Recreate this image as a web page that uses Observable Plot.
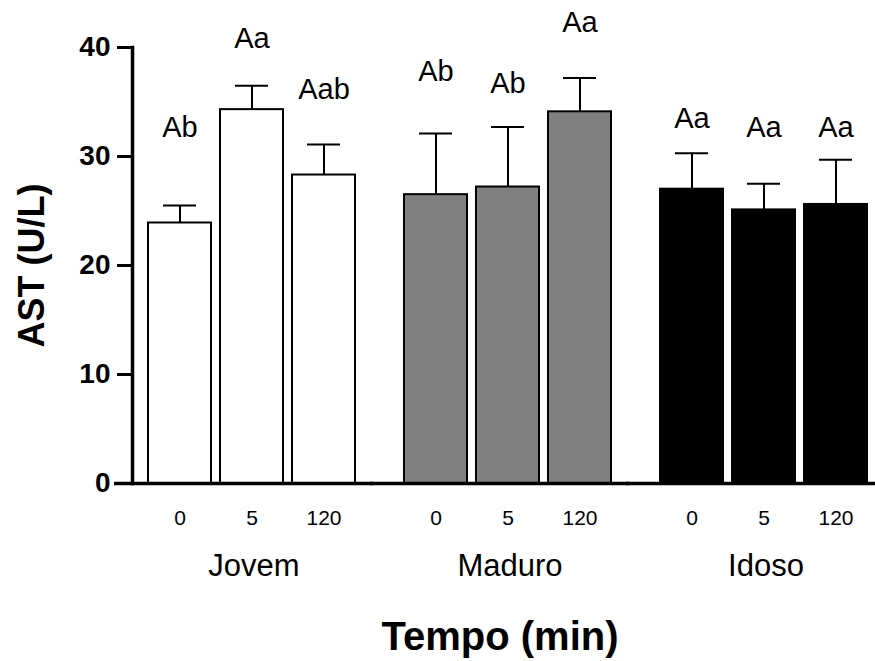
<!DOCTYPE html>
<html>
<head>
<meta charset="utf-8">
<script src="https://cdn.jsdelivr.net/npm/d3@7"></script>
<script src="https://cdn.jsdelivr.net/npm/@observablehq/plot@0.6"></script>
<style>
  html, body { margin: 0; padding: 0; background: #fff; }
</style>
</head>
<body>
<div id="chart"></div>
<script>
// ---- data ----
const groups = ["Jovem", "Maduro", "Idoso"];
const times = ["0", "5", "120"];
const means = [23.9, 34.3, 28.3, 26.5, 27.2, 34.1, 27.0, 25.1, 25.6];
const errs  = [1.6, 2.2, 2.8, 5.6, 5.5, 3.1, 3.3, 2.4, 4.1];
const letters = ["Ab", "Aa", "Aab", "Ab", "Ab", "Aa", "Aa", "Aa", "Aa"];
const letterY = [32.6, 40.8, 36.1, 37.8, 36.7, 42.3, 33.5, 32.6, 32.6];
const yTicks = [0, 10, 20, 30, 40];
const groupColors = ["#ffffff", "#808080", "#000000"];

const rows = groups.flatMap((g, gi) => times.map((t, ti) => {
  const i = gi * times.length + ti;
  return {group: g, time: t, mean: means[i], err: errs[i], top: means[i] + errs[i], letter: letters[i], ly: letterY[i]};
}));

const chart = Plot.plot({
  width: 875,
  height: 661,
  marginLeft: 132,
  marginRight: 8,
  marginTop: 47,
  marginBottom: 178,
  style: {fontFamily: "'Liberation Sans', Arial, sans-serif", background: "#fff", color: "#000"},
  fx: {domain: groups, paddingInner: 0.129, paddingOuter: 0},
  x: {domain: times, paddingInner: 0.125, paddingOuter: 0.111, align: 1},
  y: {domain: [0, 40]},
  color: {domain: groups, range: groupColors},
  marks: [
    Plot.ruleX(rows, {fx: "group", x: "time", y1: "mean", y2: "top", stroke: "#000", strokeWidth: 2}),
    Plot.tickY(rows, {fx: "group", x: "time", y: "top", stroke: "#000", strokeWidth: 2, insetLeft: 15, insetRight: 15}),
    Plot.barY(rows, {fx: "group", x: "time", y: "mean", fill: "group", stroke: "#000", strokeWidth: 2}),
    Plot.text(rows, {fx: "group", x: "time", y: "ly", text: "letter", fontSize: 29, fill: "#000"}),
    Plot.ruleY([0], {stroke: "#000", strokeWidth: 3.5, insetLeft: -18, insetRight: -18}),
    Plot.frame({facet: "super", anchor: "left", stroke: "#000", strokeWidth: 3.5}),
    Plot.axisY({ticks: yTicks, tickSize: 15, tickPadding: 7, strokeWidth: 3, fontSize: 28, fontWeight: "bold",
      label: "AST (U/L)", labelAnchor: "center", labelOffset: 114, labelArrow: "none"}),
    Plot.axisX({anchor: "bottom", tickSize: 0, tickPadding: 27, fontSize: 21, label: null}),
    Plot.axisFx({anchor: "bottom", tickSize: 0, tickPadding: 70, fontSize: 31, dx: 10, label: null}),
    Plot.axisFx({anchor: "bottom", ticks: [], tickSize: 0,
      label: "Tempo (min)", labelAnchor: "center", labelOffset: 166, labelArrow: "none"})
  ]
});

document.getElementById("chart").appendChild(chart);
d3.select(chart).selectAll('g[aria-label="y-axis label"]').attr("font-size", 36).attr("font-weight", "bold");
d3.select(chart).selectAll('g[aria-label="fx-axis label"]').attr("font-size", 40).attr("font-weight", "bold");
</script>
</body>
</html>
